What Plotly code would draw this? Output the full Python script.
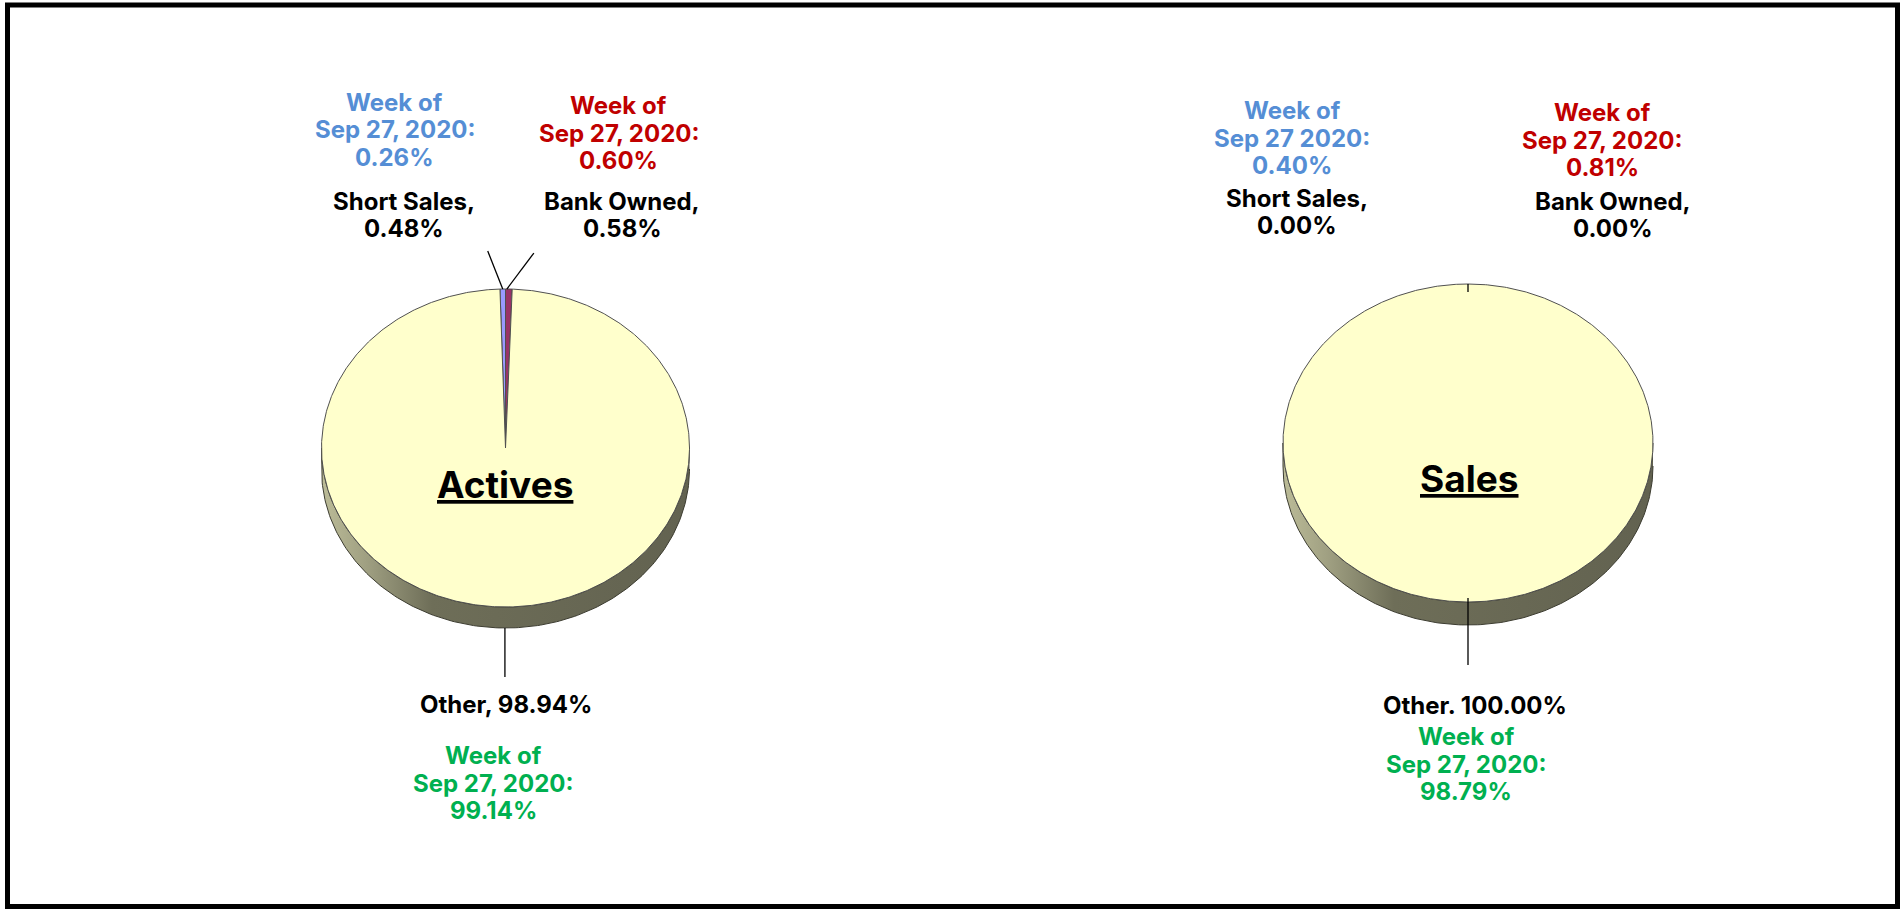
import numpy as np
import plotly.graph_objects as go

W, H = 1902, 910

# ---------------- data ----------------
categories = ["Short Sales", "Bank Owned", "Other"]
chart_titles = ["Actives", "Sales"]
actives_values = [0.48, 0.58, 98.94]
sales_values = [0.00, 0.00, 100.00]
actives_prev = [0.26, 0.60, 99.14]
sales_prev = [0.40, 0.81, 98.79]
prev_week_actives = ["Sep 27, 2020:", "Sep 27, 2020:", "Sep 27, 2020:"]
prev_week_sales = ["Sep 27 2020:", "Sep 27, 2020:", "Sep 27, 2020:"]
label_sep_actives = [",", ",", ","]
label_sep_sales = [",", ",", "."]

# ---------------- style ----------------
slice_colors = ["#9999FF", "#993366", "#FFFFCC"]
prev_colors = ["#558ED5", "#C00000", "#00B050"]
FONT = "Inter"

charts = [
    dict(title=chart_titles[0], values=actives_values, prev=actives_prev,
         weeks=prev_week_actives, seps=label_sep_actives,
         cx=505.5, cy=448, rx=184, ry=159, depth=21, dom=(0, 951),
         prev_pos=[(394.5, 130), (618.5, 133), (493, 783)],
         lab_pos=[(404, 215), (622, 215), (506, 704)],
         title_pos=(505, 484),
         leaders={0: (0, 0, -15, -38), 1: (-2, 0, 25, -36), 2: (0, 21, 0, 70)}),
    dict(title=chart_titles[1], values=sales_values, prev=sales_prev,
         weeks=prev_week_sales, seps=label_sep_sales,
         cx=1468, cy=443, rx=185, ry=159, depth=23, dom=(951, 1902),
         prev_pos=[(1292, 138), (1602, 140), (1466, 764)],
         lab_pos=[(1297, 212), (1613, 215), (1475, 705)],
         title_pos=(1469, 478),
         leaders={0: (0, 0, 0, 8), 2: (0, -4, 0, 63)}),
]

fig = go.Figure()
annotations = []


def add_block(lines, cx, cy, color, size=24, spacing=27.5):
    n = len(lines)
    for i, t in enumerate(lines):
        y = cy + (i - (n - 1) / 2) * spacing
        annotations.append(dict(
            text=t, x=cx / W, y=1 - y / H, xref="paper", yref="paper",
            xanchor="center", yanchor="middle", showarrow=False,
            font=dict(family=FONT, size=size, color=color, weight=700)))


for k, ch in enumerate(charts):
    xa = "x" if k == 0 else "x2"
    ya = "y" if k == 0 else "y2"
    rx, ry = ch["rx"], ch["ry"]
    d = ch["depth"] / ry
    vals = np.array(ch["values"], dtype=float)
    total = vals.sum()
    shares = vals / total
    start = -shares[0] * 360.0

    # side (3D rim) of the pie: lower half of the ellipse extruded down
    t = np.radians(np.linspace(90, 270, 181))
    sx = np.concatenate([np.sin(t), np.sin(t[::-1])])
    sy = np.concatenate([np.cos(t), np.cos(t[::-1]) - d])
    fig.add_trace(go.Scatter(
        x=sx, y=sy, xaxis=xa, yaxis=ya, mode="lines", fill="toself",
        line=dict(color="#3c3c30", width=1),
        fillgradient=dict(type="horizontal",
                          colorscale=[[0, "#bcbc98"], [0.12, "#a0a082"],
                                      [0.3, "#6e6e58"], [1, "#626250"]]),
        hoverinfo="skip"))

    # top face slices
    a = start
    mids = []
    for i, s in enumerate(shares):
        span = s * 360.0
        mids.append(a + span / 2)
        if span > 0:
            n = max(int(span * 2) + 2, 4)
            tt = np.radians(np.linspace(a, a + span, n))
            if span >= 359.99:
                px, py = np.sin(tt), np.cos(tt)
            else:
                px = np.concatenate([[0], np.sin(tt), [0]])
                py = np.concatenate([[0], np.cos(tt), [0]])
            fig.add_trace(go.Scatter(
                x=px, y=py, xaxis=xa, yaxis=ya, mode="lines", fill="toself",
                fillcolor=slice_colors[i], line=dict(color="#505050", width=1),
                name=categories[i], hoverinfo="name"))
        a += span

    # leader lines
    for i, (sdx, sdy, edx, edy) in ch["leaders"].items():
        m = np.radians(mids[i])
        ex, ey = np.sin(m), np.cos(m)
        fig.add_trace(go.Scatter(
            x=[ex + sdx / rx, ex + edx / rx], y=[ey - sdy / ry, ey - edy / ry],
            xaxis=xa, yaxis=ya, mode="lines",
            line=dict(color="#000000", width=1.3), hoverinfo="skip"))

    # axes placement
    x0, x1 = ch["dom"]
    cx, cy = ch["cx"], ch["cy"]
    xr = [(x0 - cx) / rx, (x1 - cx) / rx]
    yr = [-(H - cy) / ry, cy / ry]
    ax = dict(domain=[x0 / W, x1 / W], range=xr, visible=False, fixedrange=True)
    ay = dict(domain=[0, 1], range=yr, visible=False, fixedrange=True)
    if k == 0:
        fig.update_layout(xaxis=ax, yaxis=ay)
    else:
        ax["anchor"] = "y2"
        ay["anchor"] = "x2"
        fig.update_layout(xaxis2=ax, yaxis2=ay)

    # texts
    for i in range(3):
        px_, py_ = ch["prev_pos"][i]
        add_block(["Week of", ch["weeks"][i], f"{ch['prev'][i]:.2f}%"],
                  px_, py_, prev_colors[i])
        lx, ly = ch["lab_pos"][i]
        if i < 2:
            lines = [categories[i] + ch["seps"][i], f"{ch['values'][i]:.2f}%"]
        else:
            lines = [f"{categories[i]}{ch['seps'][i]} {ch['values'][i]:.2f}%"]
        add_block(lines, lx, ly, "#000000")
    tx, ty = ch["title_pos"]
    add_block([f"<u>{ch['title']}</u>"], tx, ty, "#000000", size=37)

fig.update_layout(
    width=W, height=H, margin=dict(l=0, r=0, t=0, b=0),
    paper_bgcolor="white", plot_bgcolor="white", showlegend=False,
    annotations=annotations,
    shapes=[dict(type="rect", xref="paper", yref="paper",
                 x0=7.5 / W, x1=1897.5 / W, y0=1 - 906.5 / H, y1=1 - 5 / H,
                 line=dict(color="black", width=5), fillcolor="rgba(0,0,0,0)",
                 layer="above")],
)

fig.write_html(
    "out.html",
    config={"displayModeBar": False},
    post_script="document.body.style.margin='0';document.body.style.overflow='hidden';",
)
